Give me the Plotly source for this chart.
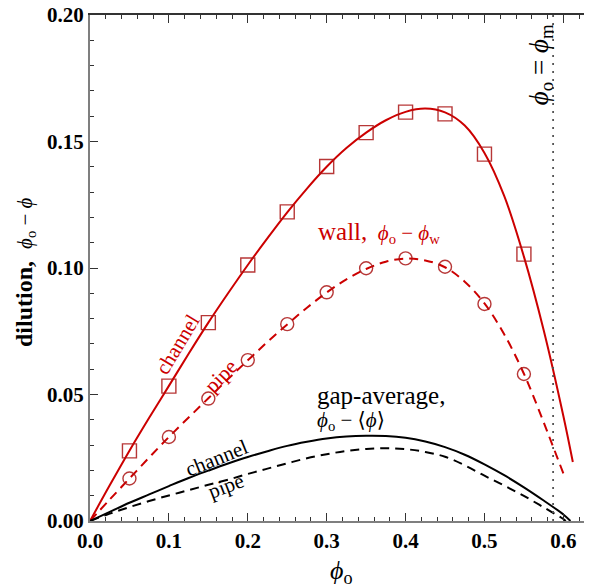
import plotly.graph_objects as go

# ---------------- data ----------------
phi_pts = [0.05, 0.10, 0.15, 0.20, 0.25, 0.30, 0.35, 0.40, 0.45, 0.50, 0.55]
wall_channel_pts = [0.0277, 0.0533, 0.0784, 0.1012, 0.1222, 0.1401, 0.1535, 0.1616, 0.1609, 0.1450, 0.1055]
wall_pipe_pts = [0.0168, 0.0332, 0.0484, 0.0636, 0.0778, 0.0904, 0.0999, 0.1038, 0.1005, 0.0858, 0.0581]

phi_curve = [0.0, 0.025, 0.05, 0.075, 0.1, 0.125, 0.15, 0.175, 0.2, 0.225, 0.25, 0.275,
             0.3, 0.325, 0.35, 0.375, 0.4, 0.425, 0.45, 0.475, 0.5, 0.525, 0.55, 0.575, 0.6]

wall_channel_x = phi_curve + [0.612]
wall_channel_y = [0.0, 0.0141, 0.0278, 0.0408, 0.0534, 0.0661, 0.0784, 0.0900, 0.1012, 0.1118,
                  0.1220, 0.1314, 0.1400, 0.1474, 0.1535, 0.1584, 0.1617, 0.1630, 0.1615, 0.1563,
                  0.1455, 0.1285, 0.1045, 0.0755, 0.0415, 0.0233]

wall_pipe_x = phi_curve
wall_pipe_y = [0.0, 0.0085, 0.0168, 0.0251, 0.0332, 0.0409, 0.0485, 0.0561, 0.0635, 0.0708,
               0.0777, 0.0843, 0.0903, 0.0955, 0.0996, 0.1025, 0.1037, 0.1030, 0.1003, 0.0946,
               0.0860, 0.0738, 0.0582, 0.0390, 0.0188]

gap_channel_x = phi_curve + [0.609]
gap_channel_y = [0.0, 0.0036, 0.0072, 0.0105, 0.0138, 0.0170, 0.0199, 0.0227, 0.0253, 0.0276,
                 0.0297, 0.0313, 0.0326, 0.0334, 0.0337, 0.0336, 0.0329, 0.0314, 0.0292, 0.0262,
                 0.0224, 0.0181, 0.0133, 0.0081, 0.0026, 0.0]

gap_pipe_x = phi_curve + [0.603]
gap_pipe_y = [0.0, 0.0029, 0.0055, 0.0079, 0.0101, 0.0122, 0.0143, 0.0163, 0.0186, 0.0207,
              0.0228, 0.0248, 0.0264, 0.0277, 0.0285, 0.0288, 0.0284, 0.0273, 0.0254, 0.0220,
              0.0179, 0.0140, 0.0099, 0.0054, 0.0008, 0.0]

phi_m = 0.587

x_ticks = [0.0, 0.1, 0.2, 0.3, 0.4, 0.5, 0.6]
x_ticktext = ["0.0", "0.1", "0.2", "0.3", "0.4", "0.5", "0.6"]
y_ticks = [0.0, 0.05, 0.10, 0.15, 0.20]
y_ticktext = ["0.00", "0.05", "0.10", "0.15", "0.20"]

# ---------------- style ----------------
RED = "#CC0000"
MRED = "rgba(170,20,20,0.85)"
SERIF = "Liberation Serif, DejaVu Serif, serif"
AXIS_GRAY = "#7f7f7f"
PHI = "ϕ"

# page body has an 8px margin, so the figure is offset by 8px
OFF = 8
L, R, T, B = 82, 0, 7, 67
W, H = 584, 580
PW, PH = W - L - R, H - T - B
PLOT_LEFT, PLOT_BOTTOM = OFF + L, OFF + H - B

fig = go.Figure()

fig.add_trace(go.Scatter(x=wall_channel_x, y=wall_channel_y, mode="lines",
                         line=dict(color=RED, width=2, shape="spline"), showlegend=False))
fig.add_trace(go.Scatter(x=wall_pipe_x, y=wall_pipe_y, mode="lines",
                         line=dict(color=RED, width=2, dash="9px,6px", shape="spline"), showlegend=False))
fig.add_trace(go.Scatter(x=gap_channel_x, y=gap_channel_y, mode="lines",
                         line=dict(color="black", width=2, shape="spline"), showlegend=False))
fig.add_trace(go.Scatter(x=gap_pipe_x, y=gap_pipe_y, mode="lines",
                         line=dict(color="black", width=2, dash="9px,6px", shape="spline"), showlegend=False))
fig.add_trace(go.Scatter(x=phi_pts, y=wall_channel_pts, mode="markers",
                         marker=dict(symbol="square-open", size=14, color=MRED, line=dict(width=1.4, color=MRED)),
                         showlegend=False))
fig.add_trace(go.Scatter(x=phi_pts, y=wall_pipe_pts, mode="markers",
                         marker=dict(symbol="circle-open", size=13, color=MRED, line=dict(width=1.4, color=MRED)),
                         showlegend=False))
fig.add_trace(go.Scatter(x=[phi_m, phi_m], y=[0, 0.2], mode="lines", xaxis="x2",
                         line=dict(color="#555555", width=1.8, dash="2px,6px"), showlegend=False))

XR = [0, 0.6363]
minor_common = dict(ticks="inside", ticklen=4, tickcolor="#333", showgrid=False)

fig.update_layout(
    width=W, height=H,
    margin=dict(l=L, r=R, t=T, b=B),
    plot_bgcolor="white", paper_bgcolor="white",
    font=dict(family=SERIF, color="black"),
    xaxis=dict(range=XR, tickvals=x_ticks, ticktext=x_ticktext, automargin=False,
               showline=True, linecolor=AXIS_GRAY, linewidth=2, ticklabeloverflow="allow",
               ticks="inside", ticklen=8, tickwidth=1, tickcolor="#333",
               minor=dict(dtick=0.02, tick0=0, **minor_common),
               showgrid=False, zeroline=False,
               tickfont=dict(family=SERIF, size=21, color="black", weight="bold")),
    xaxis2=dict(range=XR, overlaying="x", side="top", showticklabels=False, automargin=False,
                tickvals=x_ticks, showline=True, linecolor="#333", linewidth=1.5,
                ticks="inside", ticklen=8, tickwidth=1, tickcolor="#333",
                minor=dict(dtick=0.02, tick0=0, **minor_common),
                showgrid=False, zeroline=False),
    yaxis=dict(range=[0, 0.2], tickvals=y_ticks, ticktext=y_ticktext, automargin=False,
               showline=True, linecolor=AXIS_GRAY, linewidth=2, ticklabeloverflow="allow",
               ticks="inside", ticklen=8, tickwidth=1, tickcolor="#333",
               minor=dict(dtick=0.01, tick0=0, **minor_common),
               showgrid=False, zeroline=False,
               tickfont=dict(family=SERIF, size=21, color="black", weight="bold")),
)

def px2x(px):
    return (px - 90) / 789.0

def py2y(py):
    return (520.7 - py) / 2530.0

def ppx(px):
    return (px - PLOT_LEFT) / PW

def ppy(py):
    return (PLOT_BOTTOM - py) / PH

# axis titles as paper annotations
fig.add_annotation(text=f'<b>dilution,</b>  <span style="font-size:21px"><i>{PHI}</i><sub>o</sub> − <i>{PHI}</i></span>',
                   x=ppx(25), y=ppy(272), xref="paper", yref="paper", showarrow=False,
                   textangle=-90, xanchor="center", yanchor="middle",
                   font=dict(family=SERIF, size=24, color="black"))
fig.add_annotation(text=f"<i>{PHI}</i><sub>o</sub>",
                   x=ppx(341), y=ppy(572), xref="paper", yref="paper", showarrow=False,
                   xanchor="center", yanchor="middle",
                   font=dict(family=SERIF, size=26, color="black"))

ann = [
    dict(text=f'<span style="font-size:25px">wall,</span>  <i>{PHI}</i><sub>o</sub> − <i>{PHI}</i><sub>w</sub>',
         x=px2x(379), y=py2y(232), color=RED, size=21, angle=0, xanchor="center"),
    dict(text="gap-average,", x=px2x(315), y=py2y(395), color="black", size=25, angle=0, xanchor="left"),
    dict(text=f"<i>{PHI}</i><sub>o</sub> − ⟨<i>{PHI}</i>⟩", x=px2x(315), y=py2y(421), color="black", size=21, angle=0, xanchor="left"),
    dict(text="channel", x=px2x(178), y=py2y(344), color=RED, size=21, angle=-59, xanchor="center"),
    dict(text="pipe", x=px2x(221), y=py2y(376), color=RED, size=21, angle=-46, xanchor="center"),
    dict(text="channel", x=px2x(217), y=py2y(458), color="black", size=21, angle=-22, xanchor="center"),
    dict(text="pipe", x=px2x(226), y=py2y(486), color="black", size=21, angle=-21, xanchor="center"),
    dict(text=f"<i>{PHI}</i><sub>o</sub> = <i>{PHI}</i><sub>m</sub>", x=px2x(541), y=py2y(64), color="black", size=27, angle=-90, xanchor="center"),
]
for a in ann:
    fig.add_annotation(text=a["text"], x=a["x"], y=a["y"], xref="x", yref="y",
                       showarrow=False, textangle=a["angle"], xanchor=a["xanchor"], yanchor="middle",
                       font=dict(family=SERIF, size=a["size"], color=a["color"]))

fig.write_html("out.html")
